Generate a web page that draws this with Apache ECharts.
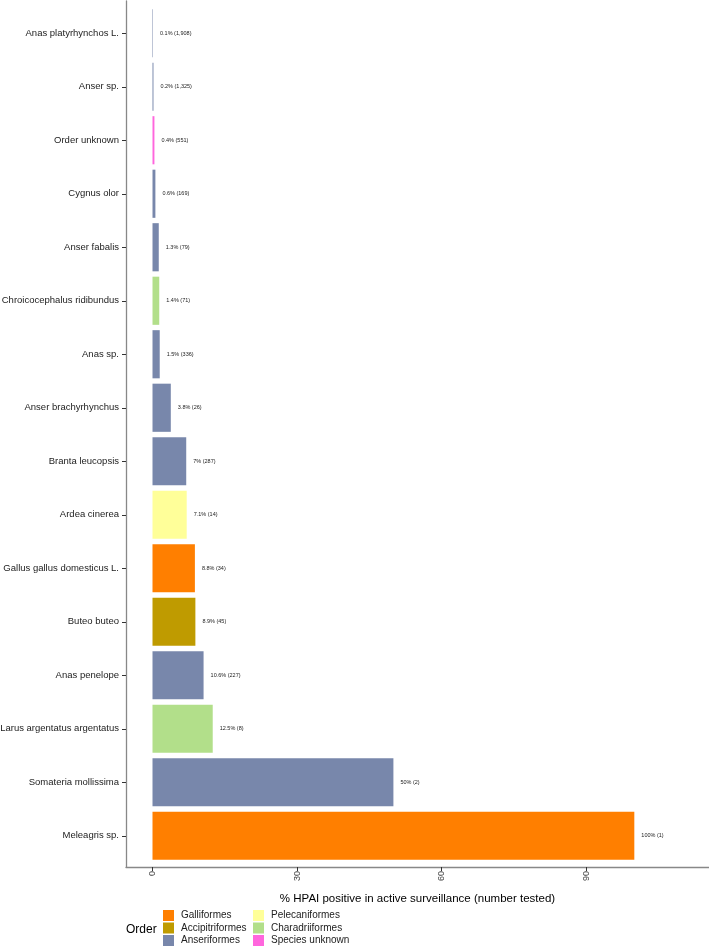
<!DOCTYPE html>
<html>
<head>
<meta charset="utf-8">
<script src="https://cdn.jsdelivr.net/npm/echarts@6/dist/echarts.min.js"></script>
<style>
  html, body { margin: 0; padding: 0; background: #fff; }
  #chart { width: 709px; height: 949px; }
</style>
</head>
<body>
<div id="chart"></div>
<script>
// species, top to bottom
const species = [
  "Anas platyrhynchos L.", "Anser sp.", "Order unknown", "Cygnus olor",
  "Anser fabalis", "Chroicocephalus ridibundus", "Anas sp.", "Anser brachyrhynchus",
  "Branta leucopsis", "Ardea cinerea", "Gallus gallus domesticus L.", "Buteo buteo",
  "Anas penelope", "Larus argentatus argentatus", "Somateria mollissima", "Meleagris sp."
];
// % HPAI positive
const positive = [0.1, 0.2, 0.4, 0.6, 1.3, 1.4, 1.5, 3.8, 7, 7.1, 8.8, 8.9, 10.6, 12.5, 50, 100];
// number tested
const tested = [1908, 1325, 551, 169, 79, 71, 336, 26, 287, 14, 34, 45, 227, 8, 2, 1];
// order of each species
const speciesOrder = [
  "Anseriformes", "Anseriformes", "Species unknown", "Anseriformes",
  "Anseriformes", "Charadriiformes", "Anseriformes", "Anseriformes",
  "Anseriformes", "Pelecaniformes", "Galliformes", "Accipitriformes",
  "Anseriformes", "Charadriiformes", "Anseriformes", "Galliformes"
];
const orders = ["Galliformes", "Accipitriformes", "Anseriformes", "Pelecaniformes", "Charadriiformes", "Species unknown"];
const orderColors = ["#FF7F00", "#BF9B00", "#7887AB", "#FFFF99", "#B2DF8A", "#FF66DD"];
const xTicks = [0, 30, 60, 90];

const font = "'Liberation Sans', Arial, sans-serif";
const chart = echarts.init(document.getElementById("chart"));

function fmtN(n) {
  return n.toLocaleString("en-US");
}

const series = orders.map((o, k) => ({
  name: o,
  type: "bar",
  stack: "all",
  xAxisIndex: 1,
  yAxisIndex: 1,
  barCategoryGap: "10%",
  itemStyle: { color: orderColors[k] },
  label: {
    show: true,
    position: "right",
    distance: 7,
    fontSize: 5.5,
    fontFamily: font,
    color: "#222",
    formatter: p => positive[p.dataIndex] + "% (" + fmtN(tested[p.dataIndex]) + ")"
  },
  data: positive.map((v, i) => speciesOrder[i] === o ? v : "-")
}));

function legendCol(names, left) {
  return {
    data: names,
    orient: "vertical",
    left: left,
    top: 910,
    height: 40,
    padding: 0,
    itemWidth: 11,
    itemHeight: 11,
    itemGap: 1.5,
    icon: "rect",
    textStyle: { fontSize: 10, color: "#222", fontFamily: font, padding: [0, 0, 0, 2] }
  };
}

const option = {
  backgroundColor: "#fff",
  animation: false,
  title: {
    text: "Order",
    left: 126,
    top: 924,
    padding: 0,
    textStyle: { fontSize: 12, fontWeight: "normal", color: "#000", fontFamily: font }
  },
  legend: [legendCol(orders.slice(0, 3), 163), legendCol(orders.slice(3), 253)],
  grid: [
    { left: 126, right: 0, top: 1, height: 866, containLabel: false, outerBoundsMode: "none" },
    { left: 126, right: 0, top: 6.5, height: 856, containLabel: false, outerBoundsMode: "none" }
  ],
  xAxis: [
    {
      type: "value",
      gridIndex: 0,
      min: -5.5,
      max: 115.5,
      splitLine: { show: false },
      axisLine: { show: true, onZero: false, lineStyle: { color: "#888", width: 1.3 } },
      axisTick: { show: true, customValues: xTicks, length: 4, lineStyle: { color: "#333" } },
      axisLabel: {
        customValues: xTicks,
        rotate: 90,
        fontSize: 9,
        color: "#444",
        fontFamily: font,
        margin: 4
      },
      name: "% HPAI positive in active surveillance (number tested)",
      nameLocation: "middle",
      nameGap: 26,
      nameTextStyle: { fontSize: 11.5, color: "#000", fontFamily: font }
    },
    {
      type: "value",
      gridIndex: 1,
      min: -5.5,
      max: 115.5,
      show: false
    }
  ],
  yAxis: [
    {
      type: "value",
      gridIndex: 0,
      min: 0,
      max: 1,
      splitLine: { show: false },
      axisLabel: { show: false },
      axisTick: { show: false },
      axisLine: { show: true, onZero: false, lineStyle: { color: "#888", width: 1.3 } }
    },
    {
      type: "category",
      gridIndex: 1,
      inverse: true,
      data: species,
      axisLine: { show: false, onZero: false },
      axisTick: { show: true, length: 4, alignWithLabel: true, lineStyle: { color: "#333" } },
      axisLabel: { fontSize: 9.5, color: "#222", fontFamily: font, margin: 7 }
    }
  ],
  series: series
};

chart.setOption(option);
</script>
</body>
</html>
